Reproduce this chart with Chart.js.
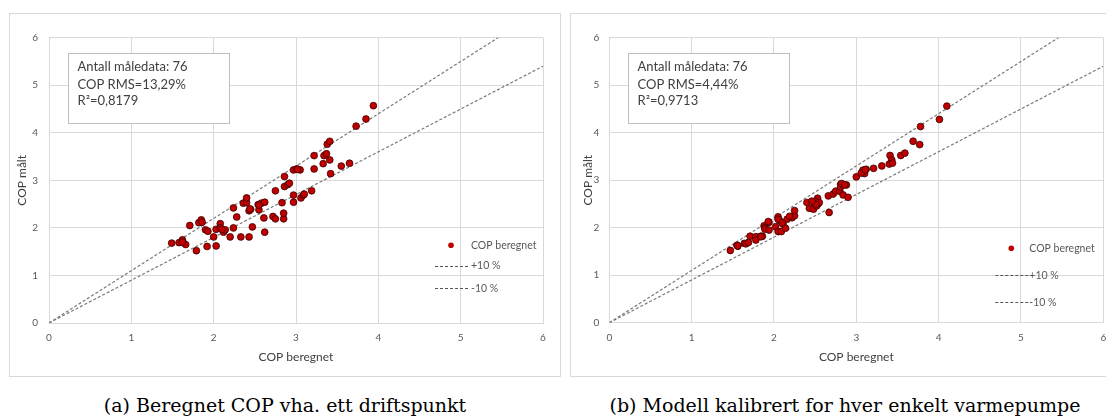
<!DOCTYPE html>
<html>
<head>
<meta charset="utf-8">
<script src="https://cdn.jsdelivr.net/npm/chart.js@4.4.0/dist/chart.umd.min.js"></script>
<style>
    html, body { margin: 0; padding: 0; background: #fff; width: 1106px; height: 419px; overflow: hidden; }
    .frame { position: absolute; top: 13px; height: 364px; border: 1px solid #d9d9d9; box-sizing: border-box; background: #fff; }
    #frameA { left: 9px; width: 552px; }
    #frameB { left: 570px; width: 550px; }
    .plot { position: relative; height: 362px; }
    #frameA .plot { width: 550px; }
    #frameB .plot { width: 548px; }
    .caption { position: absolute; top: 393px; font-family: "DejaVu Serif", serif; font-size: 19px; line-height: 24px; color: #000; text-align: center; white-space: nowrap; }
    #capA { left: 9px; width: 552px; }
    #capB { left: 570px; width: 550px; }
</style>
</head>
<body>
<div class="frame" id="frameA"><div class="plot"><canvas id="chartA"></canvas></div></div>
<div class="frame" id="frameB"><div class="plot"><canvas id="chartB"></canvas></div></div>
<div class="caption" id="capA">(a) Beregnet COP vha. ett driftspunkt</div>
<div class="caption" id="capB">(b) Modell kalibrert for hver enkelt varmepumpe</div>
<script>
// (a) one operating point
const calcCopA = [
    1.49, 1.58, 1.62, 1.63, 1.66, 1.71, 1.79, 1.82, 1.85, 1.86,
    1.90, 1.93, 1.92, 2.00, 2.03, 2.03, 2.08, 2.08, 2.12, 2.14,
    2.20, 2.24, 2.24, 2.28, 2.33, 2.36, 2.40, 2.40, 2.43, 2.43,
    2.45, 2.47, 2.54, 2.55, 2.58, 2.61, 2.62, 2.62, 2.72, 2.75,
    2.75, 2.83, 2.85, 2.85, 2.86, 2.86, 2.90, 2.92, 2.97, 2.97,
    2.97, 3.01, 3.05, 3.06, 3.09, 3.19, 3.22, 3.22, 3.33, 3.34,
    3.37, 3.38, 3.41, 3.41, 3.42, 3.55, 3.65, 3.73, 3.85, 3.94,
    1.62, 2.10, 2.55, 3.02, 3.10, 2.44
];
const measCopA = [
    1.68, 1.69, 1.75, 1.69, 1.65, 2.05, 1.52, 2.11, 2.17, 2.12,
    1.96, 1.93, 1.61, 1.81, 1.62, 1.97, 2.09, 2.00, 1.91, 1.96,
    1.81, 2.42, 2.00, 2.23, 1.81, 2.52, 2.53, 2.63, 1.81, 2.36,
    2.39, 2.02, 2.49, 2.38, 2.52, 2.21, 2.54, 1.91, 2.24, 2.19,
    2.78, 2.53, 2.19, 2.31, 3.08, 2.87, 2.91, 2.94, 2.54, 2.69,
    3.22, 3.24, 3.22, 2.63, 2.69, 2.78, 3.52, 3.24, 3.35, 3.52,
    3.56, 3.76, 3.82, 3.43, 3.14, 3.30, 3.36, 4.14, 4.29, 4.57,
    1.70, 1.97, 2.48, 3.23, 2.71, 2.40
];

// (b) calibrated per heat pump
const calcCopB = [
    1.47, 1.55, 1.56, 1.64, 1.66, 1.69, 1.71, 1.78, 1.78, 1.84,
    1.86, 1.88, 1.89, 1.89, 1.94, 1.94, 2.02, 2.05, 2.05, 2.07,
    2.09, 2.11, 2.14, 2.16, 2.22, 2.25, 2.25, 2.40, 2.43, 2.48,
    2.49, 2.52, 2.53, 2.54, 2.55, 2.66, 2.67, 2.72, 2.75, 2.80,
    2.81, 2.81, 2.84, 2.84, 2.88, 2.90, 3.00, 3.08, 3.10, 3.12,
    3.21, 3.31, 3.40, 3.41, 3.43, 3.44, 3.54, 3.59, 3.69, 3.77,
    3.78, 4.01, 4.10, 1.56, 1.84, 2.05, 2.10, 2.19, 2.50, 2.51,
    2.82, 2.86, 3.06, 3.11, 1.93, 2.46
];
const measCopB = [
    1.52, 1.63, 1.61, 1.67, 1.66, 1.69, 1.82, 1.81, 1.74, 1.82,
    1.82, 2.04, 2.00, 1.97, 2.11, 1.95, 2.02, 2.23, 1.92, 2.15,
    1.92, 2.08, 1.99, 2.18, 2.21, 2.25, 2.36, 2.53, 2.41, 2.39,
    2.53, 2.46, 2.62, 2.51, 2.53, 2.67, 2.32, 2.71, 2.77, 2.77,
    2.91, 2.86, 2.91, 2.69, 2.90, 2.64, 3.07, 3.21, 3.14, 3.23,
    3.25, 3.30, 3.34, 3.52, 3.43, 3.36, 3.52, 3.57, 3.82, 3.75,
    4.13, 4.28, 4.56, 1.62, 1.81, 2.18, 2.10, 2.24, 2.55, 2.49,
    2.93, 2.90, 3.15, 3.22, 2.13, 2.56
];

// +/-10 % guide lines
const guideX = [0, 6];
const plus10Y = [0, 6.6];
const minus10Y = [0, 5.4];

const legendLabels = ['COP beregnet', '+10 %', '-10 %'];
const statsA = ['Antall måledata: 76', 'COP RMS=13,29%', 'R²=0,8179'];
const statsB = ['Antall måledata: 76', 'COP RMS=4,44%', 'R²=0,9713'];

Chart.defaults.font.family = 'Lato, "Open Sans", sans-serif';

const POINT_FILL = '#c00000';
const GUIDE_COLOR = '#7a7a7a';

function toPoints(xs, ys) {
    return xs.map((x, i) => ({ x: x, y: ys[i] }));
}

// white box with the fit statistics, top left of the plot
const statsBox = {
    id: 'statsBox',
    afterDraw(chart, args, opts) {
        const { ctx, chartArea } = chart;
        const x = Math.round(chartArea.left + opts.dx) + 0.5;
        const y = Math.round(chartArea.top + opts.dy) + 0.5;
        ctx.save();
        ctx.fillStyle = '#fff';
        ctx.strokeStyle = '#bfbfbf';
        ctx.lineWidth = 1;
        ctx.fillRect(x, y, opts.w, opts.h);
        ctx.strokeRect(x, y, opts.w, opts.h);
        ctx.fillStyle = '#404040';
        ctx.font = '13px Lato';
        ctx.textBaseline = 'middle';
        opts.lines.forEach((line, i) => {
            ctx.fillText(line, x + 9, y + opts.rows[i]);
        });
        ctx.restore();
    }
};

// legend sitting inside the plot, lower right
const sideLegend = {
    id: 'sideLegend',
    afterDraw(chart, args, opts) {
        const { ctx, chartArea } = chart;
        const left = chartArea.left;
        ctx.save();
        ctx.font = '10.5px Lato';
        ctx.fillStyle = '#595959';
        ctx.textBaseline = 'middle';
        chart.data.datasets.forEach((ds, i) => {
            const y = chartArea.top + opts.rows[i];
            if (ds.showLine) {
                ctx.strokeStyle = '#555';
                ctx.lineWidth = 1;
                ctx.setLineDash([3, 2]);
                ctx.beginPath();
                ctx.moveTo(left + 386, Math.round(y) + 0.5);
                ctx.lineTo(left + 419, Math.round(y) + 0.5);
                ctx.stroke();
                ctx.setLineDash([]);
            } else {
                ctx.beginPath();
                ctx.arc(left + 402, y, 2.8, 0, Math.PI * 2);
                ctx.fillStyle = ds.backgroundColor;
                ctx.fill();
                ctx.fillStyle = '#595959';
            }
            ctx.fillText(ds.label, left + opts.textX, y);
        });
        ctx.restore();
    }
};

function makeChart(id, opt) {
    const ctx = document.getElementById(id);
    const tickFont = { size: 10 };
    const titleFont = { size: 12 };

    return new Chart(ctx, {
        type: 'scatter',
        data: {
            datasets: [
                {
                    label: legendLabels[0],
                    data: toPoints(opt.calc, opt.meas),
                    backgroundColor: POINT_FILL,
                    borderColor: '#3b0000',
                    borderWidth: 0.8,
                    pointRadius: 3.4
                },
                {
                    label: legendLabels[1],
                    data: toPoints(guideX, plus10Y),
                    showLine: true,
                    borderColor: GUIDE_COLOR,
                    borderWidth: 1.2,
                    borderDash: [3, 2],
                    pointRadius: 0
                },
                {
                    label: legendLabels[2],
                    data: toPoints(guideX, minus10Y),
                    showLine: true,
                    borderColor: GUIDE_COLOR,
                    borderWidth: 1.2,
                    borderDash: [3, 2],
                    pointRadius: 0
                }
            ]
        },
        options: {
            responsive: true,
            maintainAspectRatio: false,
            animation: false,
            events: [],
            layout: { padding: { left: 0, top: 23.7, right: opt.padRight, bottom: 0 } },
            scales: {
                x: {
                    type: 'linear',
                    min: 0,
                    max: 6,
                    ticks: { stepSize: 1, padding: 9, color: '#595959', font: tickFont },
                    grid: { color: '#d9d9d9', drawTicks: false },
                    border: { color: '#d9d9d9' },
                    title: { display: true, text: 'COP beregnet', color: '#404040', font: titleFont, padding: { top: 0, bottom: 12 } },
                    afterFit: s => { s.height = opt.xAxisHeight; }
                },
                y: {
                    type: 'linear',
                    min: 0,
                    max: 6,
                    ticks: { stepSize: 1, padding: opt.yTickPad, color: '#595959', font: tickFont },
                    grid: { color: '#d9d9d9', drawTicks: false },
                    border: { color: '#d9d9d9' },
                    title: { display: true, text: 'COP målt', color: '#404040', font: titleFont, padding: { top: opt.yTitlePad, bottom: 0 } },
                    afterFit: s => { s.width = opt.yAxisWidth; }
                }
            },
            plugins: {
                legend: { display: false },
                tooltip: { enabled: false },
                statsBox: { lines: opt.stats, dx: 19, dy: 15.3, w: 161, h: 70, rows: [13.5, 31, 47] },
                sideLegend: { rows: opt.legendRows, textX: opt.legendTextX }
            }
        },
        plugins: [statsBox, sideLegend]
    });
}

makeChart('chartA', {
    calc: calcCopA, meas: measCopA, stats: statsA,
    yAxisWidth: 39, xAxisHeight: 53, padRight: 17,
    yTickPad: 11, yTitlePad: 5,
    legendRows: [207.5, 228, 250.5], legendTextX: 422
});

makeChart('chartB', {
    calc: calcCopB, meas: measCopB, stats: statsB,
    yAxisWidth: 38.3, xAxisHeight: 53.3, padRight: 15.7,
    yTickPad: 10, yTitlePad: 9.8,
    legendRows: [210.5, 237.5, 264.5], legendTextX: 420
});
</script>
</body>
</html>
